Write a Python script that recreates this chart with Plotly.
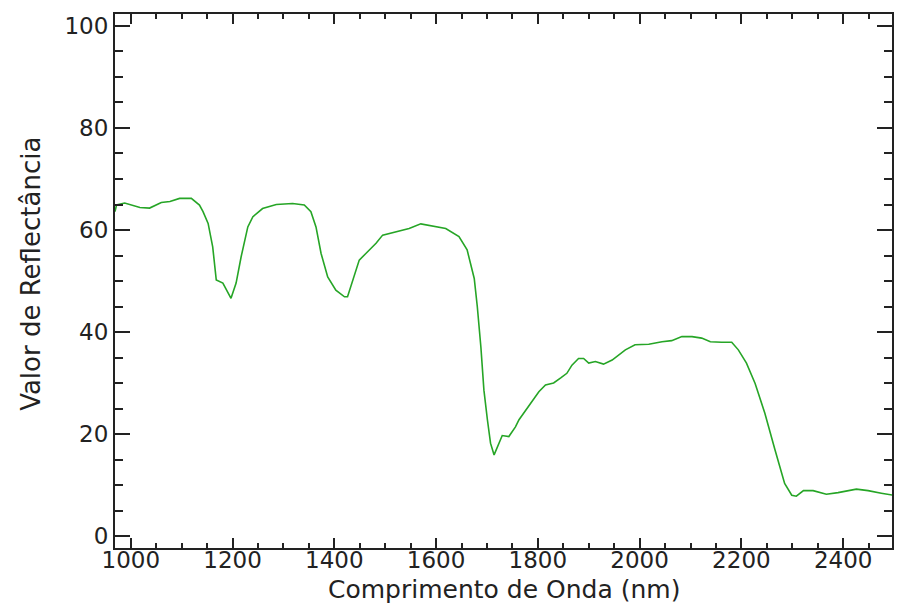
import plotly.graph_objects as go

wavelength = [969, 972, 988, 1018, 1037, 1060, 1077, 1096, 1119, 1135,
              1142, 1152, 1161, 1168, 1181, 1188, 1197, 1207, 1217, 1230,
              1240, 1259, 1286, 1318, 1341, 1354, 1364, 1374, 1387, 1403,
              1420, 1426, 1436, 1449, 1462, 1482, 1495, 1521, 1547, 1570,
              1593, 1619, 1645, 1661, 1675, 1681, 1688, 1694, 1701, 1707,
              1714, 1724, 1730, 1743, 1756, 1763, 1776, 1789, 1802, 1815,
              1831, 1845, 1857, 1867, 1880, 1890, 1900, 1913, 1929, 1946,
              1972, 1991, 2018, 2044, 2063, 2083, 2103, 2122, 2139, 2161,
              2181, 2194, 2210, 2227, 2246, 2266, 2285, 2299, 2308, 2322,
              2341, 2367, 2390, 2426, 2449, 2475, 2498]
reflectance = [63.6, 64.9, 65.3, 64.4, 64.3, 65.4, 65.6, 66.2, 66.2, 64.9,
               63.6, 61.3, 56.7, 50.2, 49.6, 48.2, 46.6, 49.6, 54.8, 60.6,
               62.6, 64.2, 65.0, 65.2, 64.9, 63.6, 60.6, 55.4, 50.8, 48.2,
               46.9, 46.9, 50.2, 54.1, 55.4, 57.4, 59.0, 59.7, 60.3, 61.2,
               60.8, 60.3, 58.7, 56.1, 50.5, 45.0, 37.1, 28.6, 22.7, 18.2,
               15.9, 18.2, 19.7, 19.5, 21.4, 22.8, 24.7, 26.5, 28.3, 29.6,
               30.0, 31.0, 31.9, 33.5, 34.8, 34.8, 33.9, 34.2, 33.7, 34.5,
               36.5, 37.5, 37.6, 38.1, 38.3, 39.1, 39.1, 38.8, 38.1, 38.0,
               38.0, 36.5, 33.9, 29.9, 24.1, 16.9, 10.3, 8.0, 7.8, 8.9,
               8.9, 8.2, 8.5, 9.2, 8.9, 8.4, 8.0]

x_ticks = [1000, 1200, 1400, 1600, 1800, 2000, 2200, 2400]
y_ticks = [0, 20, 40, 60, 80, 100]
x_title = "Comprimento de Onda (nm)"
y_title = "Valor de Reflectância"

FONT = "DejaVu Sans"

fig = go.Figure()
fig.add_trace(go.Scatter(x=wavelength, y=reflectance, mode="lines",
                         line=dict(color="#26a526", width=1.6),
                         showlegend=False, hoverinfo="skip"))

fig.update_layout(
    width=899, height=603,
    margin=dict(l=115, r=5, t=14, b=55),
    paper_bgcolor="white", plot_bgcolor="white",
    font=dict(family=FONT, size=24, color="#222"),
    xaxis=dict(range=[969, 2496], tickvals=x_ticks, ticktext=[str(v) for v in x_ticks],
               ticks="inside", ticklen=10, tickwidth=2, tickcolor="#222",
               showline=True, linecolor="#222", linewidth=2, mirror="allticks",
               showgrid=False, zeroline=False, ticklabelstandoff=-10,
               tickfont=dict(family=FONT, size=23, color="#222"),
               minor=dict(dtick=50, tick0=1000, ticks="inside", ticklen=5,
                          tickwidth=2, tickcolor="#222", showgrid=False)),
    yaxis=dict(range=[-2.35, 102.35], tickvals=y_ticks, ticktext=[str(v) for v in y_ticks],
               ticks="inside", ticklen=15, tickwidth=2, tickcolor="#222",
               showline=True, linecolor="#222", linewidth=2, mirror="allticks",
               showgrid=False, zeroline=False,
               tickfont=dict(family=FONT, size=23, color="#222"),
               minor=dict(dtick=5, tick0=0, ticks="inside", ticklen=8,
                          tickwidth=2, tickcolor="#222", showgrid=False)),
    annotations=[
        dict(text=x_title, xref="paper", yref="paper", x=0.5, y=-0.078,
             xanchor="center", yanchor="middle", showarrow=False,
             font=dict(family=FONT, size=25, color="#222")),
        dict(text=y_title, xref="paper", yref="paper", x=-0.109, y=0.514,
             xanchor="center", yanchor="middle", showarrow=False, textangle=-90,
             font=dict(family=FONT, size=26, color="#222")),
    ],
)

fig.write_html("out.html")
